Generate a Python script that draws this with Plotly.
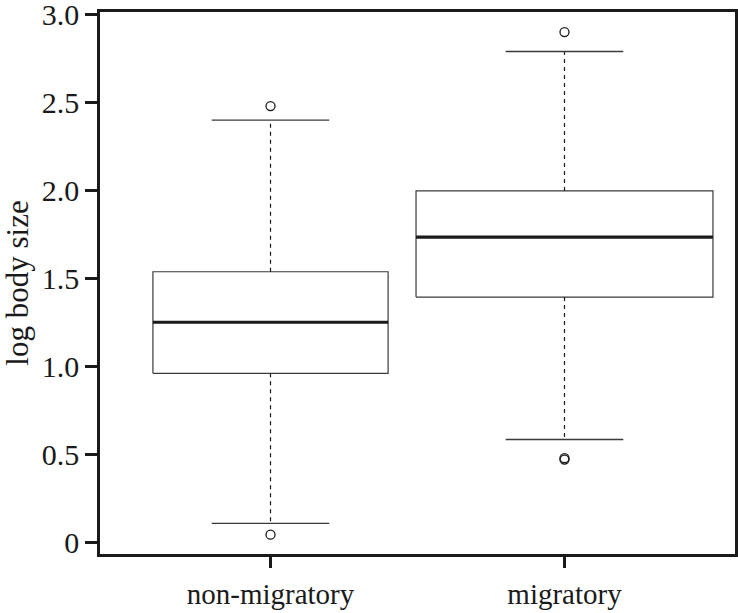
"""Boxplot — log body size by migratory status (Plotly, R-style)"""

import plotly.graph_objects as go

# ─── Data ────────────────────────────────────────────────────────────────────
groups = ["non-migratory", "migratory"]
lower_whisker = [0.110, 0.586]
q1 = [0.962, 1.395]
median = [1.252, 1.736]
q3 = [1.539, 1.998]
upper_whisker = [2.400, 2.790]
outlier_group = [0, 0, 1, 1, 1]
outlier_values = [2.480, 0.046, 2.900, 0.480, 0.472]

y_ticks = [0, 0.5, 1.0, 1.5, 2.0, 2.5, 3.0]
y_ticktext = ["0", "0.5", "1.0", "1.5", "2.0", "2.5", "3.0"]

# ─── Style ────────────────────────────────────────────────────────────────────
INK = "#1a1a1a"
BOX_LINE = "#3a3a3a"
FONT = "Liberation Serif"
BOX_HALF = [0.40, 0.505]   # varwidth-like boxes
CAP_HALF = 0.20

positions = [i + 1 for i in range(len(groups))]


def _segments(pairs):
    xs, ys = [], []
    for (x0, x1), (y0, y1) in pairs:
        xs += [x0, x1, None]
        ys += [y0, y1, None]
    return xs, ys


fig = go.Figure()

# box outlines
bx, by = [], []
for p, w, a, b in zip(positions, BOX_HALF, q1, q3):
    bx += [p - w, p + w, p + w, p - w, p - w, None]
    by += [a, a, b, b, a, None]
fig.add_trace(go.Scatter(x=bx, y=by, mode="lines",
                         line=dict(color=BOX_LINE, width=1.2), hoverinfo="skip"))

# whiskers (dashed)
wx, wy = _segments(
    [((p, p), (b, u)) for p, b, u in zip(positions, q3, upper_whisker)]
    + [((p, p), (a, l)) for p, a, l in zip(positions, q1, lower_whisker)]
)
fig.add_trace(go.Scatter(x=wx, y=wy, mode="lines",
                         line=dict(color=INK, width=1.2, dash="4px,4px"), hoverinfo="skip"))

# staples
sx, sy = _segments(
    [((p - CAP_HALF, p + CAP_HALF), (u, u)) for p, u in zip(positions, upper_whisker)]
    + [((p - CAP_HALF, p + CAP_HALF), (l, l)) for p, l in zip(positions, lower_whisker)]
)
fig.add_trace(go.Scatter(x=sx, y=sy, mode="lines",
                         line=dict(color=BOX_LINE, width=1.4), hoverinfo="skip"))

# medians
mx, my = _segments([((p - w, p + w), (m, m)) for p, w, m in zip(positions, BOX_HALF, median)])
fig.add_trace(go.Scatter(x=mx, y=my, mode="lines",
                         line=dict(color=INK, width=3.2), hoverinfo="skip"))

# outliers
fig.add_trace(go.Scatter(
    x=[positions[g] for g in outlier_group], y=outlier_values, mode="markers",
    marker=dict(symbol="circle-open", size=9, color=INK, line=dict(width=1.3)),
    hoverinfo="skip", cliponaxis=False,
))

fig.update_layout(
    width=738, height=613,
    paper_bgcolor="white", plot_bgcolor="white",
    showlegend=False,
    margin=dict(l=100, r=3, t=12, b=59, autoexpand=False),
    font=dict(family=FONT, size=28, color=INK),
)
fig.update_xaxes(
    range=[0.42, 2.58], tickvals=positions, ticktext=groups,
    showgrid=False, zeroline=False, automargin=False,
    showline=True, mirror=True, linecolor=INK, linewidth=2.5,
    ticks="outside", ticklen=11, tickwidth=2.5, tickcolor=INK,
    ticklabelstandoff=1, ticklabeloverflow="allow",
    tickfont=dict(family=FONT, size=29, color=INK),
)
fig.update_yaxes(
    range=[-0.064, 3.014], tickvals=y_ticks, ticktext=y_ticktext,
    showgrid=False, zeroline=False, automargin=False,
    showline=True, mirror=True, linecolor=INK, linewidth=2.5,
    ticks="outside", ticklen=12, tickwidth=2.5, tickcolor=INK,
    ticklabelstandoff=0, ticklabeloverflow="allow",
    tickfont=dict(family=FONT, size=30, color=INK),
    title=dict(text="log body size", font=dict(family=FONT, size=31, color=INK), standoff=5),
)

# page has a default 8px body margin; drop it so the figure sits at 0,0
fig.write_html("out.html", config={"displayModeBar": False},
               post_script="document.body.style.margin='0';")
